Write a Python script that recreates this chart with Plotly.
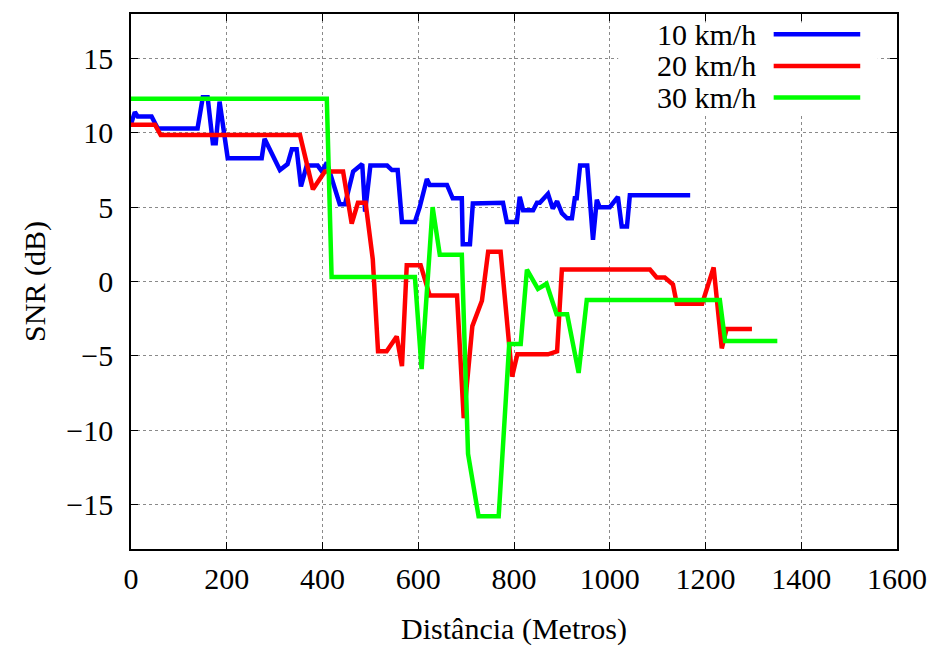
import plotly.graph_objects as go

# ---- data ----
dist_10 = [0, 8, 14, 43, 56, 139, 150, 160, 171, 177, 185, 202, 273, 279, 311, 327, 336, 346, 355,
           367, 390, 399, 409, 419, 436, 447, 464, 483, 489, 500, 535, 545, 557, 566, 593, 603,
           618, 624, 660, 672, 691, 693, 708, 714, 777, 785, 806, 812, 819, 840, 848, 854, 871,
           881, 890, 900, 911, 921, 927, 931, 938, 953, 965, 973, 979, 1000, 1017, 1025, 1036,
           1042, 1168]
snr_10 = [10.6, 11.4, 11.1, 11.1, 10.3, 10.3, 12.4, 12.4, 9.3, 9.3, 12.1, 8.3, 8.3, 9.6, 7.5, 7.9,
          8.9, 8.9, 6.4, 7.8, 7.8, 7.4, 8.0, 7.0, 5.2, 5.2, 7.4, 7.9, 4.7, 7.8, 7.8, 7.5, 7.5, 4.0,
          4.0, 5.0, 6.9, 6.5, 6.5, 5.6, 5.6, 2.5, 2.5, 5.25, 5.3, 4.0, 4.0, 5.7, 4.8, 4.8, 5.3, 5.3,
          5.9, 4.9, 5.4, 4.6, 4.25, 4.25, 5.6, 5.6, 7.8, 7.8, 2.8, 5.5, 5.0, 5.0, 5.7, 3.7, 3.7,
          5.8, 5.8]

dist_20 = [0, 50, 62, 353, 380, 405, 443, 461, 474, 490, 505, 516, 534, 555, 566, 576, 605, 624,
           681, 695, 713, 733, 746, 772, 796, 807, 871, 890, 900, 1084, 1098, 1115, 1132, 1140,
           1193, 1217, 1234, 1244, 1297]
snr_20 = [10.55, 10.55, 9.85, 9.85, 6.2, 7.4, 7.4, 3.9, 5.3, 5.3, 1.5, -4.7, -4.7, -3.7, -5.7, 1.1,
          1.1, -0.95, -0.95, -9.2, -3.0, -1.3, 2.0, 2.0, -6.4, -4.9, -4.9, -4.7, 0.8, 0.8, 0.27,
          0.27, -0.2, -1.5, -1.5, 0.95, -4.5, -3.2, -3.2]

dist_30 = [0, 409, 419, 593, 607, 630, 645, 691, 704, 726, 768, 790, 814, 827, 850, 868, 889, 911,
           935, 952, 1230, 1241, 1350]
snr_30 = [12.3, 12.3, 0.3, 0.3, -5.9, 5.0, 1.8, 1.8, -11.6, -15.8, -15.8, -4.2, -4.2, 0.8, -0.5,
          -0.15, -2.2, -2.2, -6.15, -1.25, -1.25, -4.0, -4.0]

series_names = ["10 km/h", "20 km/h", "30 km/h"]
series_colors = ["#0000ff", "#ff0000", "#00ff00"]

x_ticks = [0, 200, 400, 600, 800, 1000, 1200, 1400, 1600]
y_ticks = [-15, -10, -5, 0, 5, 10, 15]

FONT = "Liberation Serif, Times New Roman, serif"

fig = go.Figure()
for xs, ys, name, col in zip([dist_10, dist_20, dist_30], [snr_10, snr_20, snr_30],
                             series_names, series_colors):
    fig.add_trace(go.Scatter(x=xs, y=ys, mode="lines", name=name,
                             line=dict(color=col, width=4.5), showlegend=False))

axis_common = dict(
    showline=True, linecolor="black", linewidth=1.5, mirror="ticks",
    ticks="inside", ticklen=7, tickwidth=1, tickcolor="black",
    showgrid=True, gridcolor="#8a8a8a", griddash="dot", gridwidth=1,
    zeroline=False, tickfont=dict(family=FONT, size=30, color="black"),
)

fig.update_layout(
    width=935, height=646,
    margin=dict(l=123, r=46, t=4, b=105),
    paper_bgcolor="white", plot_bgcolor="white",
    font=dict(family=FONT, size=30, color="black"),
    xaxis=dict(range=[0, 1600], tickvals=x_ticks, ticklabelstandoff=2,
               title=dict(text="Distância (Metros)", font=dict(family=FONT, size=30), standoff=24),
               **axis_common),
    yaxis=dict(range=[-18, 18], tickvals=y_ticks, ticklabelstandoff=10,
               title=dict(text="SNR (dB)", font=dict(family=FONT, size=30), standoff=12),
               **axis_common),
)

# legend (gnuplot-style: opaque box, right-aligned text then line sample)
fig.add_shape(type="rect", xref="paper", yref="paper", x0=0.636, x1=0.975, y0=0.815, y1=0.984,
              fillcolor="white", line=dict(width=0), layer="above")
row_y = [0.962, 0.903, 0.844]
for name, col, yy in zip(series_names, series_colors, row_y):
    fig.add_annotation(xref="paper", yref="paper", x=0.818, y=yy, text=name, showarrow=False,
                       xanchor="right", yanchor="middle",
                       font=dict(family=FONT, size=30, color="black"))
    fig.add_shape(type="line", xref="paper", yref="paper", x0=0.839, x1=0.952, y0=yy, y1=yy,
                  line=dict(color=col, width=4.5), layer="above")

fig.write_html("out.html")
